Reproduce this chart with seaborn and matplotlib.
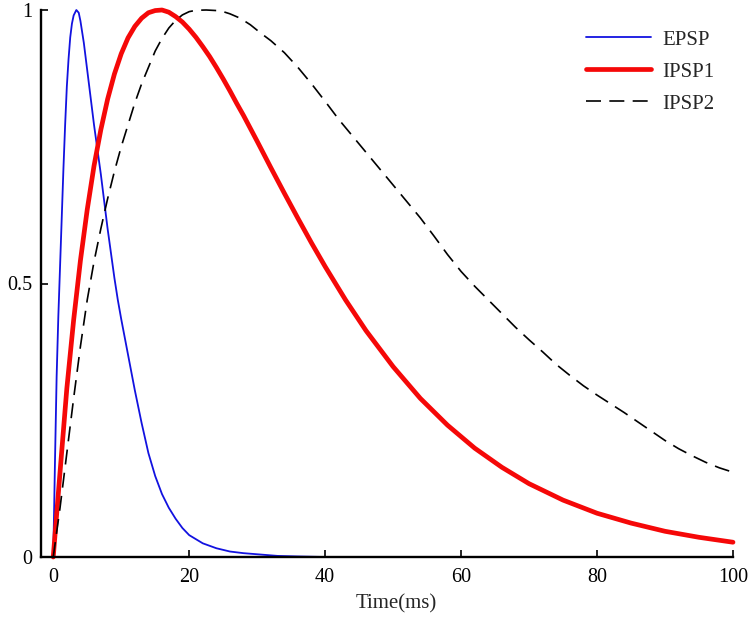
import numpy as np
import pandas as pd
import matplotlib
matplotlib.use("Agg")
import matplotlib.pyplot as plt
import seaborn as sns

# Valores (tempo em ms, amplitude normalizada)
t_epsp = [0, 0.15, 0.25, 0.5, 0.75, 1, 1.25, 1.5, 1.75, 2, 2.25, 2.5, 2.75, 3,
          3.4, 3.75, 4, 4.5, 5, 5.5, 6, 6.5, 7, 7.5, 8, 8.5, 9, 9.5, 10, 11, 12,
          13, 14, 15, 16, 17, 18, 19, 20, 22, 24, 26, 28, 30, 33, 36, 40, 50,
          60, 70, 80, 90, 100]
v_epsp = [0, 0.10, 0.17, 0.33, 0.44, 0.53, 0.62, 0.71, 0.79, 0.86, 0.91, 0.95,
          0.975, 0.99, 1.0, 0.995, 0.98, 0.94, 0.89, 0.84, 0.79, 0.745, 0.70,
          0.65, 0.60, 0.555, 0.51, 0.47, 0.435, 0.37, 0.305, 0.245, 0.19,
          0.148, 0.115, 0.09, 0.07, 0.053, 0.04, 0.025, 0.016, 0.01, 0.007,
          0.005, 0.002, 0.001, 0, 0, 0, 0, 0, 0, 0]

t_ipsp1 = [0, 1, 2, 3, 4, 5, 6, 7, 8, 9, 10, 11, 12, 13, 14, 15, 16, 17, 18, 19,
           20, 21, 22, 23, 24, 25, 26, 27, 28, 30, 32, 34, 36, 38, 40, 43, 46,
           50, 54, 58, 62, 66, 70, 75, 80, 85, 90, 95, 100]
v_ipsp1 = [0, 0.155, 0.308, 0.433, 0.542, 0.635, 0.715, 0.781, 0.837, 0.883,
           0.92, 0.949, 0.97, 0.985, 0.995, 0.999, 1.0, 0.996, 0.988, 0.978,
           0.965, 0.95, 0.933, 0.915, 0.895, 0.874, 0.852, 0.829, 0.807, 0.76,
           0.712, 0.665, 0.619, 0.574, 0.531, 0.47, 0.414, 0.348, 0.29, 0.241,
           0.199, 0.164, 0.134, 0.104, 0.08, 0.062, 0.047, 0.036, 0.027]

t_ipsp2 = [0, 1, 2, 3, 4, 5, 6, 7, 8, 9, 10, 11, 12, 13, 14, 15, 16, 17, 18, 19,
           20, 21, 22.5, 24, 25, 26, 27.5, 29, 30.5, 32, 34, 36, 38, 40, 42, 44,
           46, 48, 50, 52, 54, 56, 58, 60, 62, 64, 66, 68, 70, 72, 74, 76, 78,
           80, 82, 84, 86, 88, 90, 92, 94, 96, 98, 100]
v_ipsp2 = [0, 0.09, 0.19, 0.29, 0.385, 0.47, 0.54, 0.60, 0.655, 0.705, 0.75,
           0.79, 0.83, 0.865, 0.895, 0.925, 0.948, 0.967, 0.981, 0.991, 0.997,
           0.9995, 1.0, 0.999, 0.997, 0.993, 0.985, 0.973, 0.958, 0.944, 0.922,
           0.895, 0.865, 0.833, 0.80, 0.77, 0.74, 0.71, 0.68, 0.65, 0.62, 0.587,
           0.553, 0.522, 0.495, 0.47, 0.445, 0.42, 0.397, 0.375, 0.352, 0.332,
           0.313, 0.296, 0.28, 0.264, 0.247, 0.23, 0.213, 0.198, 0.185, 0.173,
           0.163, 0.155]

x_ticks = [0, 20, 40, 60, 80, 100]
y_ticks = [0, 0.5, 1]
y_tick_labels = ["0", "0.5", "1"]

sns.set_theme(style="ticks")
plt.rcParams['font.family'] = ['Liberation Serif', 'DejaVu Serif']

fig = plt.figure(figsize=(7.55, 6.17), dpi=100)
ax = fig.add_axes([41 / 755, 60 / 617, (733 - 41) / 755, 547 / 617])

sns.lineplot(x=t_epsp, y=v_epsp, ax=ax, color='#1212e0', lw=1.3,
             label='EPSP', clip_on=False)
sns.lineplot(x=t_ipsp1, y=v_ipsp1, ax=ax, color='#f50808', lw=3.4,
             label='IPSP1', clip_on=False)
sns.lineplot(x=t_ipsp2, y=v_ipsp2, ax=ax, color='black', lw=1.2,
             linestyle=(0, (9, 5)), label='IPSP2', clip_on=False)

ax.set_xlim(-1.8, 100)
ax.set_ylim(0, 1)
ax.set_xticks(x_ticks)
ax.set_xticklabels([str(v) for v in x_ticks])
ax.set_yticks(y_ticks)
ax.set_yticklabels(y_tick_labels)
ax.set_xlabel('Time(ms)', fontsize=15, labelpad=5, x=(396 - 41) / 692)
ax.set_ylabel('')

sns.despine(ax=ax)
for s in ['left', 'bottom']:
    ax.spines[s].set_linewidth(1.7)
    ax.spines[s].set_color('black')
ax.tick_params(direction='in', length=5, width=1.2, colors='black',
               labelsize=14.5)
ax.tick_params(axis='x', pad=8)
ax.tick_params(axis='y', pad=6)

ax.legend(loc='upper left', bbox_to_anchor=(586 / 755, 1 - 30 / 617),
          bbox_transform=fig.transFigure, frameon=False, fontsize=15,
          handlelength=3.1, handletextpad=0.58, labelspacing=0.6,
          borderpad=0, borderaxespad=0)

plt.savefig('out.png', dpi=100)
plt.close()
